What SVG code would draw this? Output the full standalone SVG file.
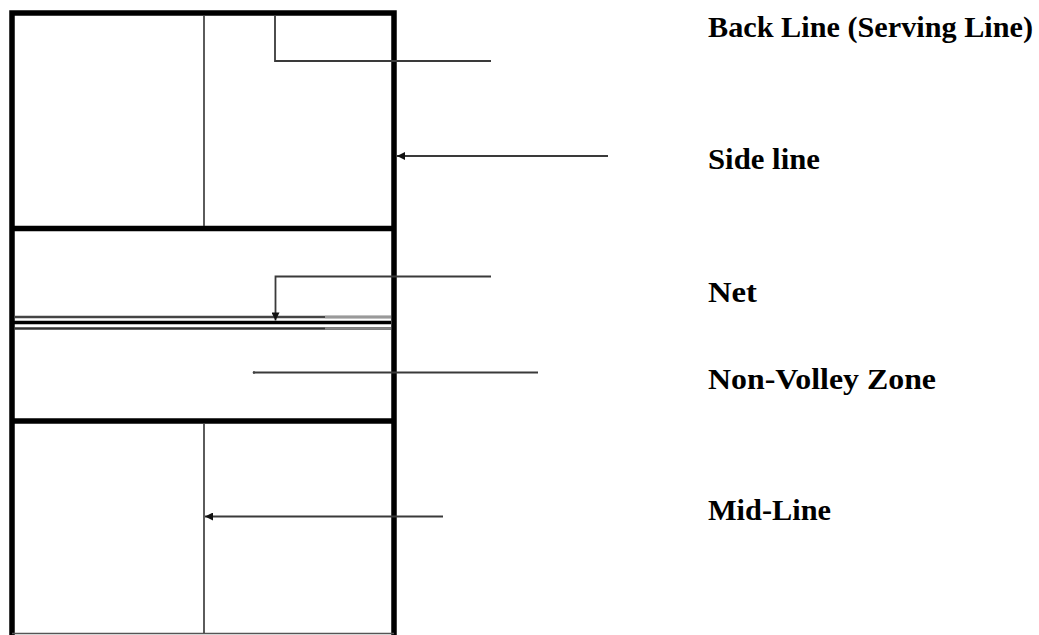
<svg xmlns="http://www.w3.org/2000/svg" width="1039" height="635" viewBox="0 0 1039 635">
  <style>
    .court { fill: none; stroke: #000; stroke-width: 5.5; }
    .thin { fill: none; stroke: #333; stroke-width: 1.6; }
    .lead { fill: none; stroke: #3a3a3a; stroke-width: 1.8; }
    .label { font-family: "Liberation Serif", "DejaVu Serif", serif; font-weight: bold; font-size: 29px; fill: #000; }
  </style>
  <defs>
    <marker id="tip" viewBox="0 0 10 10" refX="10" refY="5" markerWidth="9" markerHeight="8" orient="auto" markerUnits="userSpaceOnUse">
      <path d="M0,0 L10,5 L0,10 z" fill="#111"/>
    </marker>
  </defs>

  <rect width="1039" height="635" fill="#fff"/>

  <!-- court outline and zone lines -->
  <g id="court">
    <path class="court" d="M12,635 V13 H394 V635"/>
    <line x1="12" y1="633.5" x2="394" y2="633.5" stroke="#555" stroke-width="1.5"/>
    <line class="court" x1="12" y1="228.5" x2="394" y2="228.5"/>
    <line class="court" x1="12" y1="421" x2="394" y2="421"/>
    <line class="thin" x1="204" y1="16" x2="204" y2="226"/>
    <line class="thin" x1="204" y1="424" x2="204" y2="633"/>
  </g>

  <!-- net: three parallel bands -->
  <g id="net">
    <line x1="14" y1="317" x2="391" y2="317" stroke="#444" stroke-width="2.5"/>
    <line x1="14" y1="322.5" x2="391" y2="322.5" stroke="#000" stroke-width="3.5"/>
    <line x1="14" y1="328.5" x2="391" y2="328.5" stroke="#333" stroke-width="2.5"/>
    <line x1="325" y1="317" x2="391" y2="317" stroke="#999" stroke-width="2.5"/>
    <line x1="325" y1="328.5" x2="391" y2="328.5" stroke="#888" stroke-width="2.5"/>
  </g>

  <!-- leader lines from labels to the court -->
  <g id="connectors">
    <polyline class="lead" points="491,61 275,61 275,16"/>
    <line class="lead" x1="608" y1="156" x2="397" y2="156" marker-end="url(#tip)"/>
    <polyline class="lead" points="491,276.5 275.5,276.5 275.5,320.5" marker-end="url(#tip)"/>
    <line class="lead" x1="538" y1="372.5" x2="253" y2="372.5"/>
    <circle cx="254" cy="372.5" r="1.3" fill="#444"/>
    <line class="lead" x1="443" y1="516.5" x2="205" y2="516.5" marker-end="url(#tip)"/>
  </g>

  <!-- labels -->
  <g id="label-back-line"><text class="label" x="708" y="37" textLength="325" lengthAdjust="spacingAndGlyphs">Back Line (Serving Line)</text></g>
  <g id="label-side-line"><text class="label" x="708" y="168.5" textLength="112" lengthAdjust="spacingAndGlyphs">Side line</text></g>
  <g id="label-net"><text class="label" x="708" y="302" textLength="49" lengthAdjust="spacingAndGlyphs">Net</text></g>
  <g id="label-non-volley"><text class="label" x="708" y="388.5" textLength="228" lengthAdjust="spacingAndGlyphs">Non-Volley Zone</text></g>
  <g id="label-mid-line"><text class="label" x="708" y="520" textLength="123" lengthAdjust="spacingAndGlyphs">Mid-Line</text></g>
</svg>
